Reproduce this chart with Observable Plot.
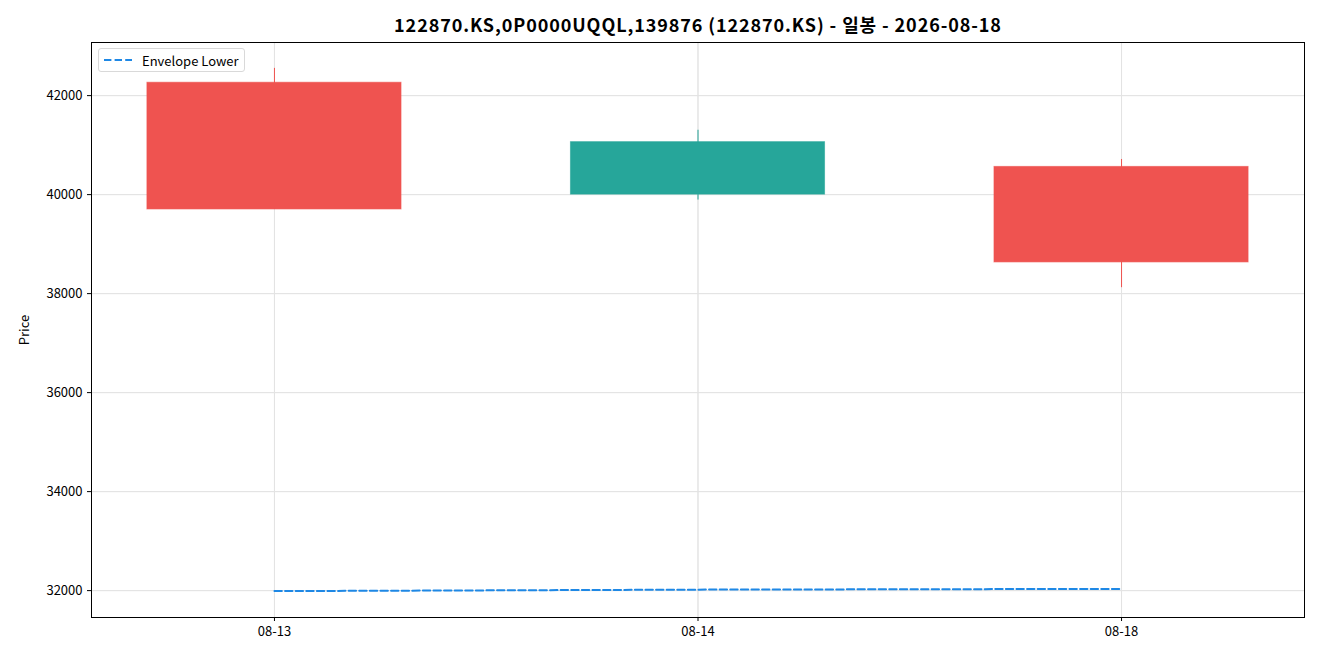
<!DOCTYPE html>
<html>
<head>
<meta charset="utf-8">
<script src="https://cdn.jsdelivr.net/npm/d3@7"></script>
<script src="https://cdn.jsdelivr.net/npm/@observablehq/plot@0.6"></script>
<style>
  body { margin: 0; background: #fff; font-family: "Noto Sans CJK KR", "Noto Sans", sans-serif; }
  #wrap { position: relative; width: 1320px; height: 660px; }
  #title { position: absolute; left: 0; width: 1396px; top: 11px; text-align: center; font-weight: bold; font-size: 18px; letter-spacing: 0.9px; color: #000; }
  #legend { position: absolute; left: 98px; top: 48px; width: 147px; height: 24px; border: 1px solid #d9d9d9; border-radius: 3px; background: rgba(255,255,255,0.8); font-size: 13px; box-sizing: border-box; }
  #legend svg { position: absolute; left: 5px; top: 6px; }
  #legend span { position: absolute; left: 43px; top: 2px; }
</style>
</head>
<body>
<div id="wrap">
  <div id="chart"></div>
  <div id="title">122870.KS,0P0000UQQL,139876 (122870.KS) - 일봉 - 2026-08-18</div>
  <div id="legend"><svg width="30" height="10"><line x1="0" y1="5" x2="28" y2="5" stroke="#1e88e5" stroke-width="2" stroke-dasharray="7.4,3.2"/></svg><span>Envelope Lower</span></div>
</div>
<script>
const dates = ["08-13", "08-14", "08-18"];
const open  = [39700, 40000, 40560];
const high  = [42550, 41300, 40710];
const low   = [39700, 39890, 38120];
const close = [42260, 41060, 38630];
const candleColor = ["#ef5350", "#26a69a", "#ef5350"];
const envelopeLower = [31990, 32020, 32035];
const yTicks = [32000, 34000, 36000, 38000, 40000, 42000];

const data = dates.map((d, i) => ({
  i, date: d, open: open[i], high: high[i], low: low[i], close: close[i],
  color: candleColor[i], env: envelopeLower[i]
}));

const half = 0.3;
const chart = Plot.plot({
  width: 1320,
  height: 660,
  marginLeft: 91,
  marginRight: 16,
  marginTop: 42,
  marginBottom: 43,
  style: { fontFamily: '"Noto Sans CJK KR", "Noto Sans", sans-serif', fontSize: "13px", color: "#000", background: "#fff" },
  x: { domain: [-0.432, 2.432], ticks: dates.map((d, i) => i), tickFormat: i => dates[i], tickSize: 4, tickPadding: 5, label: null, grid: true },
  y: { domain: [31457, 43073], ticks: yTicks, tickFormat: d => String(d), tickSize: 4, tickPadding: 5, label: "Price", labelAnchor: "center", labelArrow: "none", labelOffset: 72, grid: true },
  marks: [
    Plot.gridX(dates.map((d, i) => i), { stroke: "#e3e3e3", strokeOpacity: 1 }),
    Plot.gridY(yTicks, { stroke: "#e3e3e3", strokeOpacity: 1 }),
    Plot.ruleX(data, { x: "i", y1: "low", y2: "high", stroke: "color", strokeWidth: 1 }),
    Plot.rect(data, {
      x1: d => d.i - half, x2: d => d.i + half,
      y1: d => Math.min(d.open, d.close), y2: d => Math.max(d.open, d.close),
      fill: "color", stroke: "color", strokeOpacity: 0.6, strokeWidth: 1, inset: 0
    }),
    Plot.line(data, { x: "i", y: "env", stroke: "#1e88e5", strokeWidth: 2, strokeDasharray: "7.4,3.2" }),
    Plot.frame({ stroke: "#000", strokeWidth: 1 })
  ]
});
document.getElementById("chart").appendChild(chart);
</script>
</body>
</html>
